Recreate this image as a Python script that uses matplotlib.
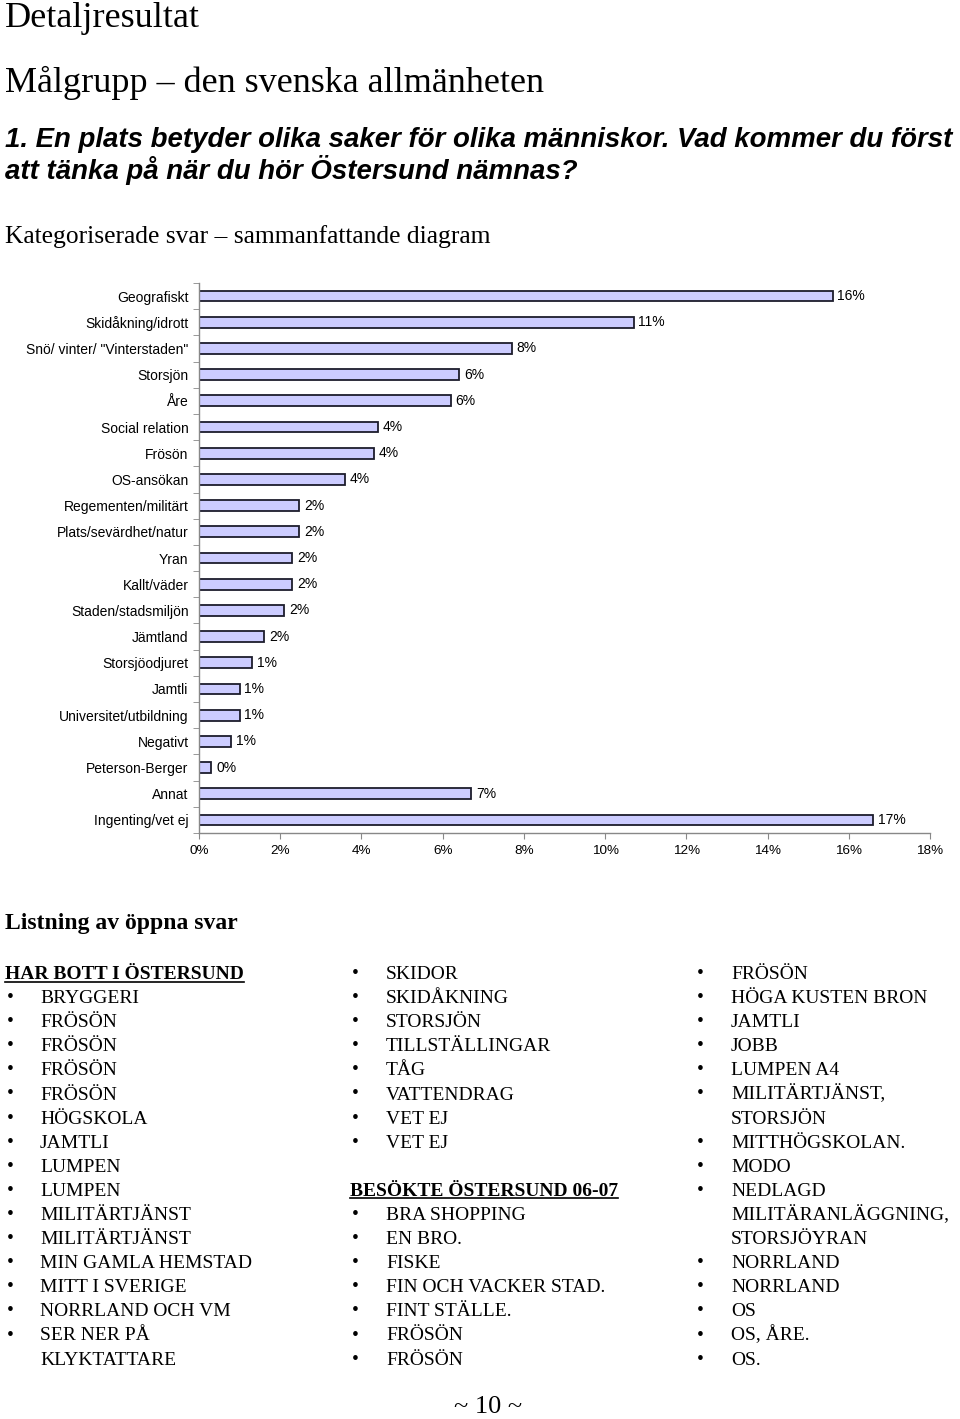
import matplotlib
matplotlib.use("Agg")
import matplotlib.pyplot as plt
import numpy as np
from matplotlib.lines import Line2D

# ---------------- data ----------------
categories = ["Geografiskt", "Skidåkning/idrott", "Snö/ vinter/ \"Vinterstaden\"", "Storsjön", "Åre",
              "Social relation", "Frösön", "OS-ansökan", "Regementen/militärt",
              "Plats/sevärdhet/natur", "Yran", "Kallt/väder", "Staden/stadsmiljön", "Jämtland",
              "Storsjöodjuret", "Jamtli", "Universitet/utbildning", "Negativt", "Peterson-Berger",
              "Annat", "Ingenting/vet ej"]
values = [15.6, 10.7, 7.7, 6.4, 6.2, 4.4, 4.3, 3.6, 2.47, 2.47, 2.3, 2.3, 2.1, 1.6,
          1.3, 1.0, 1.0, 0.8, 0.3, 6.7, 16.6]
xticks = [0, 2, 4, 6, 8, 10, 12, 14, 16, 18]

col1_header = "HAR BOTT I ÖSTERSUND"
col1_items = ["BRYGGERI", "FRÖSÖN", "FRÖSÖN", "FRÖSÖN", "FRÖSÖN", "HÖGSKOLA", "JAMTLI",
              "LUMPEN", "LUMPEN", "MILITÄRTJÄNST", "MILITÄRTJÄNST", "MIN GAMLA HEMSTAD",
              "MITT I SVERIGE", "NORRLAND OCH VM", "SER NER PÅ\nKLYKTATTARE"]
col2_items_a = ["SKIDOR", "SKIDÅKNING", "STORSJÖN", "TILLSTÄLLINGAR", "TÅG", "VATTENDRAG",
                "VET EJ", "VET EJ"]
col2_header = "BESÖKTE ÖSTERSUND 06-07"
col2_items_b = ["BRA SHOPPING", "EN BRO.", "FISKE", "FIN OCH VACKER STAD.", "FINT STÄLLE.",
                "FRÖSÖN", "FRÖSÖN"]
col3_items = ["FRÖSÖN", "HÖGA KUSTEN BRON", "JAMTLI", "JOBB", "LUMPEN A4",
              "MILITÄRTJÄNST,\nSTORSJÖN", "MITTHÖGSKOLAN.", "MODO",
              "NEDLAGD\nMILITÄRANLÄGGNING,\nSTORSJÖYRAN", "NORRLAND", "NORRLAND", "OS",
              "OS, ÅRE.", "OS."]

# ---------------- figure ----------------
W, H = 960, 1419
fig = plt.figure(figsize=(W / 100, H / 100), dpi=100)
fig.patch.set_facecolor("white")

SERIF = "Liberation Serif"
SANS = "Liberation Sans"


def fx(x):
    return x / W


def fy(y):
    return 1 - y / H


def ptext(x, y, s, **kw):
    return fig.text(fx(x), fy(y), s, **kw)


# headings
ptext(5, 27, "Detaljresultat", family=SERIF, fontsize=26, va="baseline")
ptext(5, 92, "Målgrupp – den svenska allmänheten", family=SERIF, fontsize=26, va="baseline")
ptext(5, 147, "1. En plats betyder olika saker för olika människor. Vad kommer du först",
      family=SANS, fontsize=19.9, weight="bold", style="italic", va="baseline")
ptext(5, 179, "att tänka på när du hör Östersund nämnas?",
      family=SANS, fontsize=19.9, weight="bold", style="italic", va="baseline")
ptext(5, 243, "Kategoriserade svar – sammanfattande diagram", family=SERIF, fontsize=18.4,
      va="baseline")

# ---------------- chart ----------------
x0, x1 = 199, 930
y0, y1 = 283, 833
ax = fig.add_axes([fx(x0), fy(y1), (x1 - x0) / W, (y1 - y0) / H])
n = len(categories)
pos = np.arange(n)
ax.barh(pos, values, height=0.41, color="#CCCCFF", edgecolor="#1c1c2c", linewidth=1.3)
ax.set_ylim(n - 0.5, -0.5)
ax.set_xlim(xticks[0], xticks[-1])
ax.set_xticks(xticks)
ax.set_xticklabels([f"{t}%" for t in xticks], family=SANS, fontsize=9.7)
ax.set_yticks(pos)
ax.set_yticklabels(categories, family=SANS, fontsize=10)
ax.set_yticks(np.arange(-0.5, n, 1), minor=True)
ax.tick_params(axis="y", which="major", length=0, pad=7.5)
ax.tick_params(axis="y", which="minor", length=4, color="#888888", direction="out")
ax.tick_params(axis="x", which="major", length=4, color="#888888", direction="out", pad=5)
for side in ("top", "right"):
    ax.spines[side].set_visible(False)
for side in ("left", "bottom"):
    ax.spines[side].set_color("#888888")
    ax.spines[side].set_linewidth(1.0)
for i, v in enumerate(values):
    ax.annotate(f"{v:.0f}%", xy=(v, i), xytext=(3.5, 0), textcoords="offset points",
                va="center", ha="left", family=SANS, fontsize=10)

# ---------------- lists ----------------
ptext(5, 929, "Listning av öppna svar", family=SERIF, fontsize=17, weight="bold", va="baseline")

BASE = 979.0
STEP = 24.1
LFS = 14


def line_y(k):
    return BASE + STEP * k


def header(x, k, s):
    t = ptext(x, line_y(k), s, family=SERIF, fontsize=LFS, weight="bold", va="baseline")
    return t


def items(bx, tx, k0, lst):
    k = k0
    for it in lst:
        parts = it.split("\n")
        ptext(bx, line_y(k) - 1, "•", family=SERIF, fontsize=LFS, ha="center", va="baseline")
        for p in parts:
            ptext(tx, line_y(k), p, family=SERIF, fontsize=LFS, va="baseline")
            k += 1
    return k


h1 = header(5, 0, col1_header)
items(10, 40, 1, col1_items)
k = items(355, 386, 0, col2_items_a)
h2 = header(350, 9, col2_header)
items(355, 386, 10, col2_items_b)
items(700.5, 731, 0, col3_items)

ptext(488, 1418, "~ 10 ~", family=SERIF, fontsize=19, ha="center", va="bottom")

# underline headers
fig.canvas.draw()
r = fig.canvas.get_renderer()
for t, k in ((h1, 0), (h2, 9)):
    bb = t.get_window_extent(renderer=r)
    yb = fy(line_y(k) + 2.5)
    fig.add_artist(Line2D([bb.x0 / W, bb.x1 / W], [yb, yb], color="black", linewidth=1.2,
                          transform=fig.transFigure))

fig.savefig("out.png", dpi=100, facecolor="white")
